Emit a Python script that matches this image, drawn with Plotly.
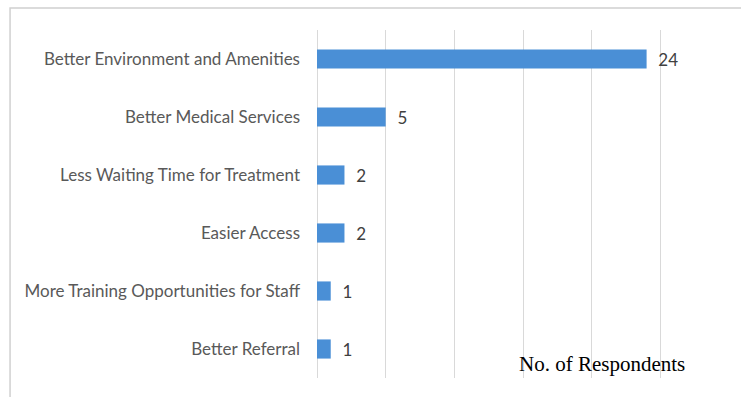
import plotly.graph_objects as go

categories = [
    "Better Environment and Amenities",
    "Better Medical Services",
    "Less Waiting Time for Treatment",
    "Easier Access",
    "More Training Opportunities for Staff",
    "Better Referral",
]
values = [24, 5, 2, 2, 1, 1]
axis_title = "No. of Respondents"

fig = go.Figure(go.Bar(
    x=values,
    y=categories,
    orientation="h",
    marker=dict(color="#4a8fd6", line=dict(width=0)),
    width=0.33,
    text=values,
    texttemplate="  %{x}",
    textposition="outside",
    constraintext="none",
    cliponaxis=False,
    textfont=dict(family="Lato", size=17, color="#404040"),
))

fig.update_layout(
    width=741, height=397,
    margin=dict(l=317, r=12, t=30, b=19),
    paper_bgcolor="white",
    plot_bgcolor="white",
    showlegend=False,
    xaxis=dict(
        range=[0, 30], dtick=5, showticklabels=False,
        showgrid=True, gridcolor="#d9d9d9", gridwidth=1,
        zeroline=True, zerolinecolor="#d9d9d9", zerolinewidth=1,
        showline=False, fixedrange=True,
    ),
    yaxis=dict(
        autorange="reversed",
        categoryorder="array", categoryarray=categories,
        tickfont=dict(family="Lato", size=17, color="#595959"),
        ticks="", ticklabelstandoff=16,
        showgrid=False, showline=False, zeroline=False,
    ),
    shapes=[dict(
        type="rect", xref="paper", yref="paper",
        x0=-0.745, x1=1.2, y0=-0.2, y1=1.063,
        line=dict(color="#d0d0d0", width=1.5), fillcolor="rgba(0,0,0,0)",
        layer="below",
    )],
    annotations=[dict(
        text=axis_title, xref="paper", yref="paper",
        x=0.485, y=0.04, xanchor="left", yanchor="middle",
        showarrow=False,
        font=dict(family="Liberation Serif", size=21, color="#000000"),
    )],
)

fig.write_html("out.html")
